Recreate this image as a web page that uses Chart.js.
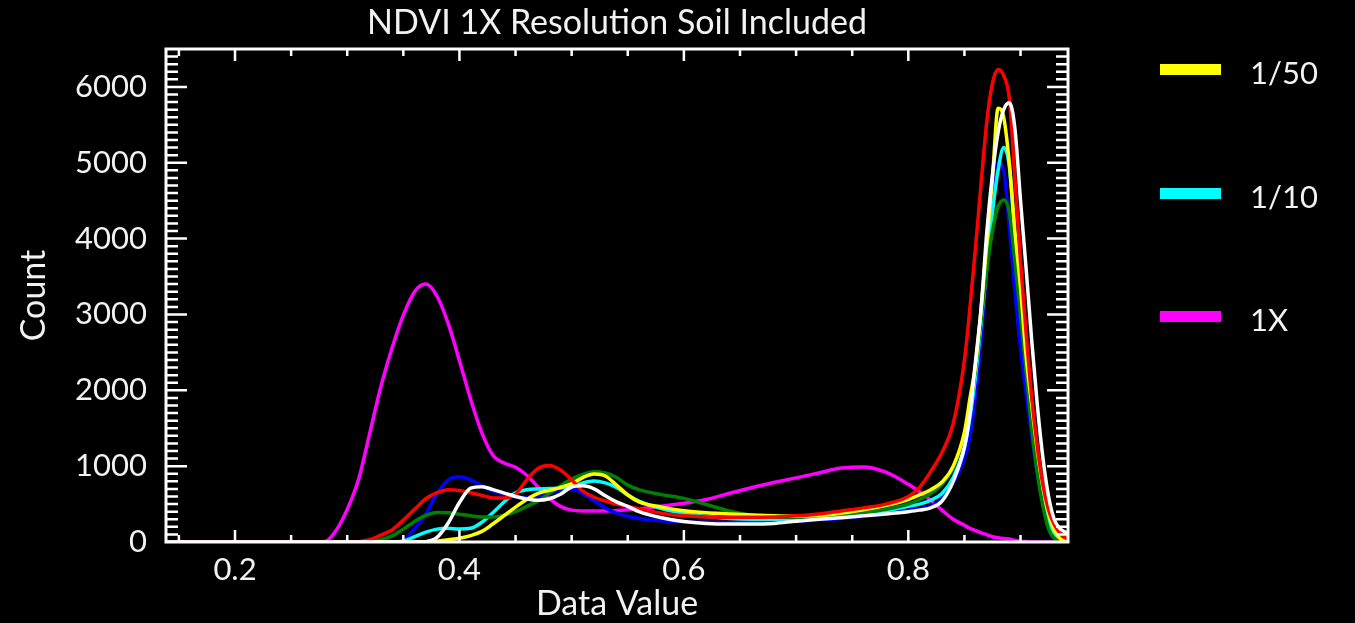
<!DOCTYPE html>
<html>
<head>
<meta charset="utf-8">
<title>NDVI 1X Resolution Soil Included</title>
<script src="https://cdn.jsdelivr.net/npm/chart.js@4.4.0/dist/chart.umd.min.js"></script>
<style>
  html, body { margin: 0; padding: 0; background: #000; }
  #wrap { position: relative; width: 1355px; height: 623px; }
  #legend { position: absolute; left: 1160px; top: 0; font-family: Lato, "Open Sans", sans-serif; font-size: 31px; color: #f2f2f2; }
  .item { position: absolute; left: 0; height: 30px; width: 200px; }
  .bar { position: absolute; left: 0; top: 10px; width: 61px; height: 11px; }
  .txt { position: absolute; left: 90px; top: -1px; line-height: 38px; white-space: nowrap; }
</style>
</head>
<body>
<div id="wrap">
  <canvas id="chart" width="1355" height="623"></canvas>
  <div id="legend"></div>
</div>
<script>
// x grid (Data Value)
const dataValue = [0.1385, 0.20, 0.26, 0.28, 0.29, 0.30, 0.31, 0.32, 0.33, 0.34, 0.35, 0.36, 0.37, 0.38, 0.39,
  0.40, 0.41, 0.42, 0.43, 0.44, 0.45, 0.46, 0.47, 0.48, 0.49, 0.50, 0.51, 0.52, 0.53, 0.54, 0.55, 0.56,
  0.58, 0.60, 0.62, 0.64, 0.66, 0.68, 0.70, 0.72, 0.74, 0.76, 0.78, 0.80, 0.81, 0.82, 0.83, 0.84, 0.85,
  0.855, 0.86, 0.865, 0.87, 0.875, 0.88, 0.885, 0.89, 0.895, 0.90, 0.905, 0.91, 0.915, 0.92, 0.925,
  0.93, 0.935, 0.94, 0.9423];

// counts per series
const count1X = [0, 0, 0, 5, 150, 430, 820, 1430, 2050, 2560, 2990, 3300, 3400, 3240, 2880,
  2390, 1880, 1440, 1140, 1040, 985, 880, 725, 575, 470, 420, 410, 410, 410, 415, 425, 440,
  470, 510, 560, 640, 715, 785, 845, 910, 975, 990, 920, 760, 660, 550, 420, 300, 220,
  180, 150, 120, 95, 70, 55, 45, 40, 20, 10, 5, 0, 0, 0, 0,
  0, 0, 0, 0];
const countBlue = [0, 0, 0, 0, 0, 0, 0, 0, 0, 0, 20, 180, 370, 640, 820,
  860, 820, 740, 670, 630, 595, 590, 610, 640, 680, 700, 640, 540, 450, 380, 340, 310,
  280, 265, 260, 258, 260, 265, 275, 290, 310, 340, 375, 420, 440, 470, 570, 780, 1100,
  1400, 1950, 2700, 3600, 4400, 5000, 4900, 4150, 3300, 2550, 1950, 1400, 900, 500, 200,
  50, 10, 0, 0];
const countRed = [0, 0, 0, 0, 0, 0, 5, 30, 90, 160, 290, 430, 570, 650, 690,
  680, 650, 615, 580, 580, 630, 820, 970, 1010, 950, 820, 670, 590, 540, 500, 470, 440,
  380, 345, 330, 325, 325, 330, 345, 370, 410, 450, 500, 600, 720, 930, 1180, 1560, 2400,
  3100, 3900, 4750, 5550, 6050, 6230, 6150, 5850, 4800, 3700, 2750, 1900, 1250, 750, 420,
  230, 120, 60, 40];
const countGreen = [0, 0, 0, 0, 0, 0, 0, 5, 30, 80, 170, 270, 350, 390, 385,
  365, 345, 330, 330, 355, 400, 470, 540, 640, 740, 830, 890, 925, 910, 850, 750, 690,
  625, 575, 495, 410, 355, 330, 325, 330, 355, 385, 430, 500, 560, 640, 760, 980, 1400,
  1760, 2300, 2950, 3600, 4100, 4420, 4510, 4350, 3700, 2980, 2250, 1500, 900, 470, 170,
  50, 10, 0, 0];
const count1_10 = [0, 0, 0, 0, 0, 0, 0, 0, 0, 0, 10, 70, 130, 170, 180,
  172, 180, 260, 390, 530, 650, 690, 700, 705, 712, 730, 780, 805, 780, 720, 620, 540,
  440, 380, 335, 310, 300, 300, 310, 320, 340, 365, 410, 470, 500, 550, 640, 850, 1250,
  1650, 2200, 2900, 3650, 4350, 4900, 5200, 4950, 4000, 3100, 2300, 1600, 1000, 560, 250,
  90, 20, 0, 0];
const count1_50 = [0, 0, 0, 0, 0, 0, 0, 0, 0, 0, 0, 0, 2, 10, 30,
  50, 85, 140, 240, 350, 460, 560, 640, 680, 720, 770, 850, 895, 870, 750, 620, 530,
  460, 412, 385, 370, 355, 345, 340, 350, 380, 425, 480, 560, 620, 690, 790, 1000, 1450,
  1900, 2350, 3100, 3950, 4800, 5720, 5600, 5000, 4100, 3350, 2450, 1800, 1200, 720, 380,
  160, 50, 10, 0];
const countWhite = [0, 0, 0, 0, 0, 0, 0, 0, 0, 0, 0, 0, 5, 60, 250,
  520, 710, 730, 690, 645, 600, 566, 550, 570, 630, 725, 740, 700, 610, 530, 470, 400,
  320, 270, 245, 237, 237, 245, 275, 300, 320, 345, 370, 400, 420, 450, 540, 800, 1250,
  1700, 2400, 3100, 4100, 4850, 5400, 5700, 5790, 5450, 4500, 3600, 2650, 1800, 1100, 600,
  300, 180, 130, 110];

const xTicks = [0.2, 0.4, 0.6, 0.8];
const yTicks = [0, 1000, 2000, 3000, 4000, 5000, 6000];
const legendNames = ["1/50", "1/10", "1X"];
const legendColors = ["#ffff00", "#00ffff", "#ff00ff"];

const FONT = "Lato, 'Open Sans', sans-serif";
const TEXT = "#f2f2f2";

// first dataset is drawn on top
const series = [
  { label: "white", data: countWhite, color: "#ffffff" },
  { label: "red", data: countRed, color: "#ff0000" },
  { label: "1/50", data: count1_50, color: "#ffff00" },
  { label: "green", data: countGreen, color: "#008000" },
  { label: "1/10", data: count1_10, color: "#00ffff" },
  { label: "blue", data: countBlue, color: "#0000ff" },
  { label: "1X", data: count1X, color: "#ff00ff" },
];

// frame round the plot with inward ticks on all four sides
const frameTicks = {
  id: "frameTicks",
  afterDatasetsDraw(chart) {
    const { ctx, chartArea: a, scales } = chart;
    const x = scales.x, y = scales.y;
    ctx.save();
    ctx.strokeStyle = "#ffffff";
    ctx.lineWidth = 2.5;
    ctx.beginPath();
    for (let v = 100; v < y.max; v += 100) {
      const py = y.getPixelForValue(v);
      const len = v % 1000 === 0 ? 21 : 12;
      ctx.moveTo(a.left, py); ctx.lineTo(a.left + len, py);
      ctx.moveTo(a.right, py); ctx.lineTo(a.right - len, py);
    }
    for (let k = Math.ceil(x.min / 0.05); k * 0.05 < x.max; k++) {
      const px = x.getPixelForValue(k * 0.05);
      const len = k % 4 === 0 ? 12 : 7;
      ctx.moveTo(px, a.top); ctx.lineTo(px, a.top + len);
      ctx.moveTo(px, a.bottom); ctx.lineTo(px, a.bottom - len);
    }
    ctx.stroke();
    ctx.lineWidth = 3;
    ctx.strokeRect(a.left, a.top, a.right - a.left, a.bottom - a.top);
    ctx.restore();
  },
};

function buildLegend() {
  const box = document.getElementById("legend");
  const tops = [54, 178, 301];
  legendNames.forEach((name, i) => {
    const item = document.createElement("div");
    item.className = "item";
    item.style.top = tops[i] + "px";
    item.innerHTML = '<div class="bar" style="background:' + legendColors[i] + '"></div><div class="txt">' + name + "</div>";
    box.appendChild(item);
  });
}

function initChart() {
  const ctx = document.getElementById("chart").getContext("2d");
  new Chart(ctx, {
    type: "line",
    data: {
      datasets: series.map((s) => ({
        label: s.label,
        data: dataValue.map((v, i) => ({ x: v, y: s.data[i] })),
        borderColor: s.color,
        backgroundColor: s.color,
        borderWidth: 3.5,
        pointRadius: 0,
        fill: false,
        cubicInterpolationMode: "monotone",
      })),
    },
    options: {
      responsive: false,
      animation: false,
      devicePixelRatio: 1,
      layout: { padding: { left: 0, right: 287, top: 0, bottom: 0 } },
      plugins: {
        legend: { display: false },
        tooltip: { enabled: false },
        title: {
          display: true,
          fullSize: false,
          text: "NDVI 1X Resolution Soil Included",
          color: TEXT,
          font: { family: FONT, size: 34, weight: "normal" },
          padding: { top: 2.6, bottom: 5.6 },
        },
      },
      scales: {
        x: {
          type: "linear",
          min: 0.1385,
          max: 0.9423,
          afterBuildTicks: (s) => { s.ticks = xTicks.map((v) => ({ value: v })); },
          afterFit: (s) => { s.height = 81; },
          grid: { display: false, drawTicks: false },
          border: { display: false },
          ticks: {
            color: TEXT,
            font: { family: FONT, size: 31 },
            padding: 9,
            maxRotation: 0,
            autoSkip: false,
            callback: (v) => v.toFixed(1),
          },
          title: {
            display: true,
            text: "Data Value",
            color: TEXT,
            font: { family: FONT, size: 34, lineHeight: 1 },
            padding: { top: 0, bottom: 2 },
          },
        },
        y: {
          min: 0,
          max: 6500,
          afterBuildTicks: (s) => { s.ticks = yTicks.map((v) => ({ value: v })); },
          afterFit: (s) => { s.width = 166; },
          grid: { display: false, drawTicks: false },
          border: { display: false },
          ticks: {
            color: TEXT,
            font: { family: FONT, size: 31 },
            padding: 19,
            autoSkip: false,
            callback: (v) => String(v),
          },
          title: {
            display: true,
            text: "Count",
            color: TEXT,
            font: { family: FONT, size: 34, lineHeight: 1 },
            padding: { top: 17, bottom: 0 },
          },
        },
      },
    },
    plugins: [frameTicks],
  });
}

document.addEventListener("DOMContentLoaded", () => {
  buildLegend();
  initChart();
});
</script>
</body>
</html>
